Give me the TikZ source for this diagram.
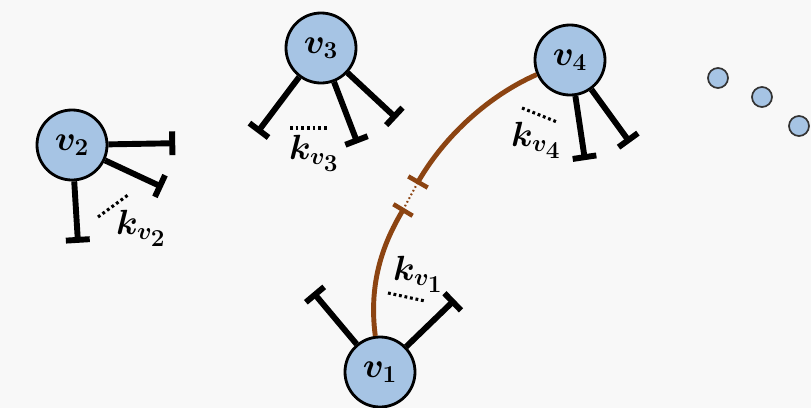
\documentclass[tikz,border=0pt]{standalone}
\usepackage{amsmath,amssymb}
\usepackage{xcolor}
\usepackage{tikz}
\usetikzlibrary{positioning,arrows.meta,calc}
\DeclareMathSizes{24}{24}{19}{16}
\definecolor{nodeblue}{RGB}{166,196,228}
\definecolor{linkbrown}{RGB}{140,68,18}
\definecolor{bggray}{RGB}{248,248,248}
\tikzset{
  vert/.style  = {circle, draw=black, line width=2pt, fill=nodeblue, minimum size=1.75cm, inner sep=0pt, font=\fontsize{24}{28}\selectfont},
  more/.style  = {circle, draw=black!80, line width=1.2pt, fill=nodeblue, minimum size=0.5cm, inner sep=0pt},
  arm/.style   = {line width=4.2pt, -{Bar[width=17pt]}},
  link/.style  = {line width=3.5pt, draw=linkbrown},
  cut/.style   = {line width=3.2pt, draw=linkbrown},
  gap/.style   = {line width=1.5pt, draw=linkbrown, dash pattern=on 1.2pt off 1.8pt},
  many/.style  = {line width=2.2pt, dash pattern=on 2pt off 2pt},
  klab/.style  = {font=\fontsize{24}{28}\selectfont, inner sep=0pt},
}

\begin{document}
\begin{tikzpicture}[x=0.025cm, y=-0.025cm]
  \useasboundingbox[fill=bggray] (0,0) rectangle (811,408);

  % vertices
  \node[vert] (v1) at (380,372) {$\boldsymbol{v_1}$};
  \node[vert] (v2) at (72,145) {$\boldsymbol{v_2}$};
  \node[vert] (v3) at (321,48) {$\boldsymbol{v_3}$};
  \node[vert] (v4) at (570,60) {$\boldsymbol{v_4}$};
  \node[more] (d1) at (718,78) {};
  \node[more] (d2) at (762,97) {};
  \node[more] (d3) at (799,126) {};

  % free arms
  \foreach \v/\a/\r in {v2/1/2.58, v2/-25/2.5, v2/-86.5/2.45,
                        v3/-127/2.65, v3/-69/2.55, v3/-43/2.58,
                        v4/-81.5/2.53, v4/-54/2.55,
                        v1/130/2.6, v1/44/2.6}
    \draw[arm] (\v) -- ($(\v)+(\a:\r cm)$);

  % link v1 -- v4 (cut)
  \coordinate (brk1) at (403,210);
  \coordinate (brk2) at (418,182);
  \draw[link] (v1) .. controls (368,280) and (385,240) .. (brk1);
  \draw[link] (brk2) .. controls (445,135) and (490,95) .. (v4);
  \draw[cut] ($(brk1)+(149:0.28cm)$) -- ($(brk1)+(-31:0.28cm)$);
  \draw[cut] ($(brk2)+(150:0.28cm)$) -- ($(brk2)+(-30:0.28cm)$);
  \draw[gap] (brk1) -- (brk2);

  % arm counts
  \node[klab] (k1) at (418,274) {$\boldsymbol{k_{v_1}}$};
  \node[klab] (k2) at (141,228) {$\boldsymbol{k_{v_2}}$};
  \node[klab] (k3) at (314,153) {$\boldsymbol{k_{v_3}}$};
  \node[klab] (k4) at (536,140) {$\boldsymbol{k_{v_4}}$};
  \draw[many] (388,293) -- (425,301);
  \draw[many] (98,217) -- (128,195);
  \draw[many] (290,128) -- (327,128);
  \draw[many] (522,108) -- (557,122);
\end{tikzpicture}
\end{document}
